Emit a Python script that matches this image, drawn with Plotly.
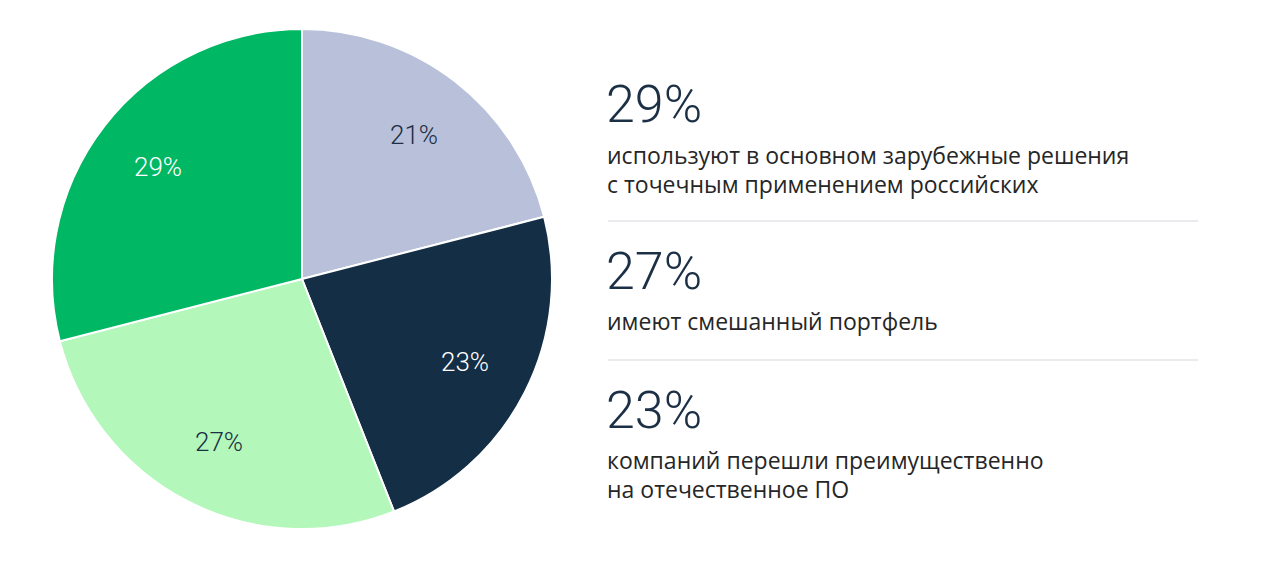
import math
import plotly.graph_objects as go

labels = ["Преимущественно зарубежные", "Преимущественно отечественные", "Смешанный портфель", "Прочие"]
values = [21, 23, 27, 29]
colors = ["#b9c0d9", "#132e45", "#b3f7ba", "#00b764"]
text_colors = ["#1b2f45", "#ffffff", "#1b2f45", "#ffffff"]

side_pcts = ["29%", "27%", "23%"]
side_texts = [
    ["используют в основном зарубежные решения", "с точечным применением российских"],
    ["имеют смешанный портфель"],
    ["компаний перешли преимущественно", "на отечественное ПО"],
]

W, H = 1267, 582
OFF = 8  # page body margin compensation


def px(x):
    return (x - OFF) / W


def py(y):
    return 1 - (y - OFF) / H


CX, CY, R = 302, 279, 250

fig = go.Figure(go.Pie(
    labels=labels,
    values=values,
    sort=False,
    direction="clockwise",
    rotation=0,
    marker=dict(colors=colors, line=dict(color="#ffffff", width=2)),
    textinfo="none",
    hoverinfo="skip",
    showlegend=False,
    domain=dict(x=[px(CX - R), px(CX + R)], y=[py(CY + R), py(CY - R)]),
))

# slice labels along each slice's bisector
total = sum(values)
cum = 0
for v, tc in zip(values, text_colors):
    mid = (cum + v / 2) / total * 2 * math.pi
    cum += v
    r = 0.73 * R
    lx = CX + r * math.sin(mid)
    ly = CY - r * math.cos(mid)
    fig.add_annotation(x=px(lx), y=py(ly), xref="paper", yref="paper",
                       text=f"{v}%", showarrow=False, xanchor="center", yanchor="middle",
                       font=dict(family="Roboto", size=26, color=tc, weight=300))

pct_y = [105, 272, 410]
desc_y = [155, 321, 460]
LINE = 29
for p, pyv, lines, dy in zip(side_pcts, pct_y, side_texts, desc_y):
    fig.add_annotation(x=px(604), y=py(pyv), xref="paper", yref="paper",
                       text=p, showarrow=False, xanchor="left", yanchor="middle",
                       font=dict(family="Roboto", size=52, color="#1b2f45", weight=300))
    for i, t in enumerate(lines):
        fig.add_annotation(x=px(605), y=py(dy + i * LINE), xref="paper", yref="paper",
                           text=t, showarrow=False, xanchor="left", yanchor="middle", align="left",
                           font=dict(family="Open Sans", size=23, color="#262626"))

for ly in [221, 360]:
    fig.add_shape(type="line", xref="paper", yref="paper",
                  x0=px(608), x1=px(1198), y0=py(ly), y1=py(ly),
                  line=dict(color="#e3e5e8", width=1.5))

fig.update_layout(
    width=W, height=H,
    margin=dict(l=0, r=0, t=0, b=0),
    paper_bgcolor="#ffffff",
    plot_bgcolor="#ffffff",
)

fig.write_html("out.html")
